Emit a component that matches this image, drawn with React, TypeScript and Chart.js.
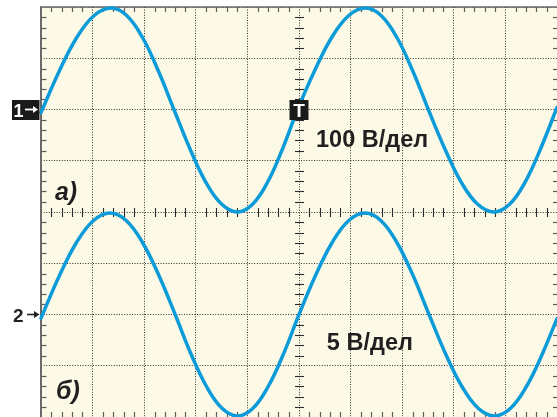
import React, { useEffect, useRef } from "react";
import { Chart, registerables } from "chart.js";

Chart.register(...registerables);

// Screen: 10 horizontal x 8 vertical divisions. Values are in divisions.
// Upper trace (а): centred on +2 div
const topTimes = [0, 0.355, 0.69, 1.025, 1.36, 1.665, 1.97, 2.275, 2.58, 2.888, 3.195, 3.503, 3.81, 4.1, 4.39, 4.68, 4.97, 5.3, 5.63, 5.96, 6.29, 6.595, 6.9, 7.205, 7.51, 7.828, 8.145, 8.463, 8.78, 9.08, 9.38, 9.68, 10.0];
const topValues = [1.94, 2.75, 3.4, 3.83, 3.98, 3.83, 3.4, 2.75, 1.99, 1.23, 0.58, 0.15, 0.0, 0.15, 0.58, 1.23, 1.99, 2.75, 3.4, 3.83, 3.98, 3.83, 3.4, 2.75, 1.99, 1.23, 0.58, 0.15, 0.0, 0.15, 0.58, 1.23, 2.04];

// Lower trace (б): centred on -2 div
const bottomTimes = [0, 0.358, 0.685, 1.013, 1.34, 1.655, 1.97, 2.285, 2.6, 2.903, 3.205, 3.508, 3.81, 4.108, 4.405, 4.703, 5.0, 5.32, 5.64, 5.96, 6.28, 6.59, 6.9, 7.21, 7.52, 7.838, 8.155, 8.473, 8.79, 9.1, 9.41, 9.72, 10.0];
const bottomValues = [-2.07, -1.24, -0.6, -0.17, -0.02, -0.17, -0.6, -1.24, -2.0, -2.76, -3.4, -3.83, -3.98, -3.83, -3.4, -2.76, -2.0, -1.24, -0.6, -0.17, -0.02, -0.17, -0.6, -1.24, -2.0, -2.76, -3.4, -3.83, -3.98, -3.83, -3.4, -2.76, -2.08];

const xDivisions = [0, 10];
const yDivisions = [-4, 4];
const channelLevels = [2, -2];
const channelNames = ["1", "2"];
const sensitivityLabels = ["100 В/дел", "5 В/дел"];
const panelLabels = ["а)", "б)"];
const triggerLabel = "T";

const WAVE = "#0b9bd8";
const SCREEN = "#fcf9e6";
const INK = "#231f20";

const scopePlugin = {
  id: "scope",
  beforeDraw(chart: any) {
    const { ctx, chartArea: a } = chart;
    ctx.save();
    ctx.fillStyle = SCREEN;
    ctx.fillRect(a.left, a.top, a.right - a.left, a.bottom - a.top);
    ctx.restore();
  },
  beforeDatasetsDraw(chart: any) {
    const { ctx, chartArea: a, scales } = chart;
    const px = (v: number) => scales.x.getPixelForValue(v);
    const py = (v: number) => scales.y.getPixelForValue(v);
    const seg = (x1: number, y1: number, x2: number, y2: number) => {
      ctx.beginPath();
      ctx.moveTo(x1, y1);
      ctx.lineTo(x2, y2);
      ctx.stroke();
    };
    ctx.save();
    // edge minor ticks
    ctx.strokeStyle = "#5e5e5e";
    ctx.lineWidth = 1.2;
    for (let i = 1; i < 50; i++) {
      if (i % 5 === 0) continue;
      const x = Math.round(px(i / 5)) + 0.5;
      seg(x, a.top, x, a.top + 5);
      seg(x, a.bottom, x, a.bottom - 5);
    }
    for (let i = 1; i < 40; i++) {
      if (i % 5 === 0) continue;
      const y = Math.round(py(-4 + i / 5)) + 0.5;
      seg(a.left, y, a.left + 5.5, y);
      seg(a.right, y, a.right - 4, y);
    }
    // centre axis crosses
    ctx.strokeStyle = "#2a2a2a";
    ctx.lineWidth = 1.1;
    const cy = Math.round(py(0)) + 0.5;
    const cx = Math.round(px(5)) + 0.5;
    for (let i = 1; i < 50; i++) {
      if (i % 5 === 0) continue;
      const x = Math.round(px(i / 5)) + 0.5;
      seg(x, cy - 4.5, x, cy + 4.5);
    }
    for (let i = 1; i < 40; i++) {
      if (i % 5 === 0) continue;
      const y = Math.round(py(-4 + i / 5)) + 0.5;
      seg(cx - 4.5, y, cx + 4.5, y);
    }
    // borders
    ctx.strokeStyle = "#6a6a6a";
    ctx.lineWidth = 2;
    seg(a.left, a.top - 0.5, a.left, a.bottom);
    ctx.lineWidth = 1.5;
    seg(a.left - 1, a.top, a.right, a.top);
    ctx.restore();
  },
  afterDatasetsDraw(chart: any) {
    const { ctx, chartArea: a, scales } = chart;
    const px = (v: number) => scales.x.getPixelForValue(v);
    const py = (v: number) => scales.y.getPixelForValue(v);
    ctx.save();

    // trigger marker
    const tx = px(5);
    const ty = py(channelLevels[0]);
    ctx.fillStyle = "#1a1a1a";
    ctx.fillRect(tx - 9.5, ty - 9.5, 19, 20);
    ctx.fillStyle = "#ffffff";
    ctx.font = 'bold 19px "Liberation Sans", Arial, sans-serif';
    ctx.textAlign = "center";
    ctx.textBaseline = "alphabetic";
    ctx.fillText(triggerLabel, tx, ty + 7.5);

    // channel 1 marker (boxed)
    const y1 = py(channelLevels[0]);
    ctx.fillStyle = "#1a1a1a";
    ctx.fillRect(a.left - 29, y1 - 9.5, 27.5, 20);
    ctx.fillStyle = "#ffffff";
    ctx.textAlign = "left";
    ctx.font = 'bold 18px "Liberation Sans", Arial, sans-serif';
    ctx.fillText(channelNames[0], a.left - 27.5, y1 + 7);
    ctx.strokeStyle = "#ffffff";
    ctx.lineWidth = 1.8;
    ctx.beginPath();
    ctx.moveTo(a.left - 16, y1);
    ctx.lineTo(a.left - 7, y1);
    ctx.stroke();
    ctx.beginPath();
    ctx.moveTo(a.left - 3, y1);
    ctx.lineTo(a.left - 8, y1 - 3.5);
    ctx.lineTo(a.left - 8, y1 + 3.5);
    ctx.closePath();
    ctx.fill();

    // channel 2 marker
    const y2 = py(channelLevels[1]);
    ctx.fillStyle = INK;
    ctx.font = 'bold 19px "Liberation Sans", Arial, sans-serif';
    ctx.fillText(channelNames[1], a.left - 28, y2 + 7);
    ctx.strokeStyle = INK;
    ctx.lineWidth = 1.6;
    ctx.beginPath();
    ctx.moveTo(a.left - 14, y2);
    ctx.lineTo(a.left - 6, y2);
    ctx.stroke();
    ctx.beginPath();
    ctx.moveTo(a.left - 1.5, y2);
    ctx.lineTo(a.left - 7, y2 - 3.5);
    ctx.lineTo(a.left - 7, y2 + 3.5);
    ctx.closePath();
    ctx.fill();

    // sensitivity labels
    ctx.fillStyle = INK;
    ctx.font = 'bold 23.5px "Liberation Sans", Arial, sans-serif';
    ctx.fillText(sensitivityLabels[0], px(5.33), py(1.27));
    ctx.fillText(sensitivityLabels[1], px(5.54), py(-2.69));

    // panel labels
    ctx.font = 'italic bold 25px "Liberation Sans", Arial, sans-serif';
    ctx.fillText(panelLabels[0], px(0.27), py(0.24));
    ctx.fillText(panelLabels[1], px(0.29), py(-3.65));
    ctx.restore();
  },
};

export default function App() {
  const ref = useRef<HTMLCanvasElement>(null);
  useEffect(() => {
    const makeLine = (xs: number[], ys: number[]) => ({
      data: xs.map((x, i) => ({ x, y: ys[i] })),
      showLine: true,
      borderColor: WAVE,
      borderWidth: 3.5,
      pointRadius: 0,
      tension: 0.4,
      clip: false as const,
      borderCapStyle: "round" as const,
      borderJoinStyle: "round" as const,
    });
    const chart = new Chart(ref.current!, {
      type: "scatter",
      data: {
        datasets: [makeLine(topTimes, topValues), makeLine(bottomTimes, bottomValues)],
      },
      options: {
        responsive: false,
        animation: false,
        devicePixelRatio: 1,
        events: [],
        layout: { padding: { left: 41, top: 7, right: 0, bottom: 0 }, autoPadding: false },
        plugins: { legend: { display: false }, tooltip: { enabled: false } },
        scales: {
          x: {
            type: "linear",
            min: xDivisions[0],
            max: xDivisions[1],
            ticks: { display: false, stepSize: 1 },
            grid: { color: "#2e2e2e", lineWidth: 1, drawTicks: false },
            border: { display: false, dash: [1, 1.6] },
          },
          y: {
            type: "linear",
            min: yDivisions[0],
            max: yDivisions[1],
            ticks: { display: false, stepSize: 1 },
            grid: { color: "#2e2e2e", lineWidth: 1, drawTicks: false },
            border: { display: false, dash: [1, 1.6] },
          },
        },
      },
      plugins: [scopePlugin],
    });
    return () => chart.destroy();
  }, []);
  return (
    <div style={{ position: "fixed", left: 0, top: 0, width: 557, height: 417, overflow: "hidden", background: "#fff" }}>
      <canvas ref={ref} width={557} height={417} style={{ display: "block" }} />
    </div>
  );
}
